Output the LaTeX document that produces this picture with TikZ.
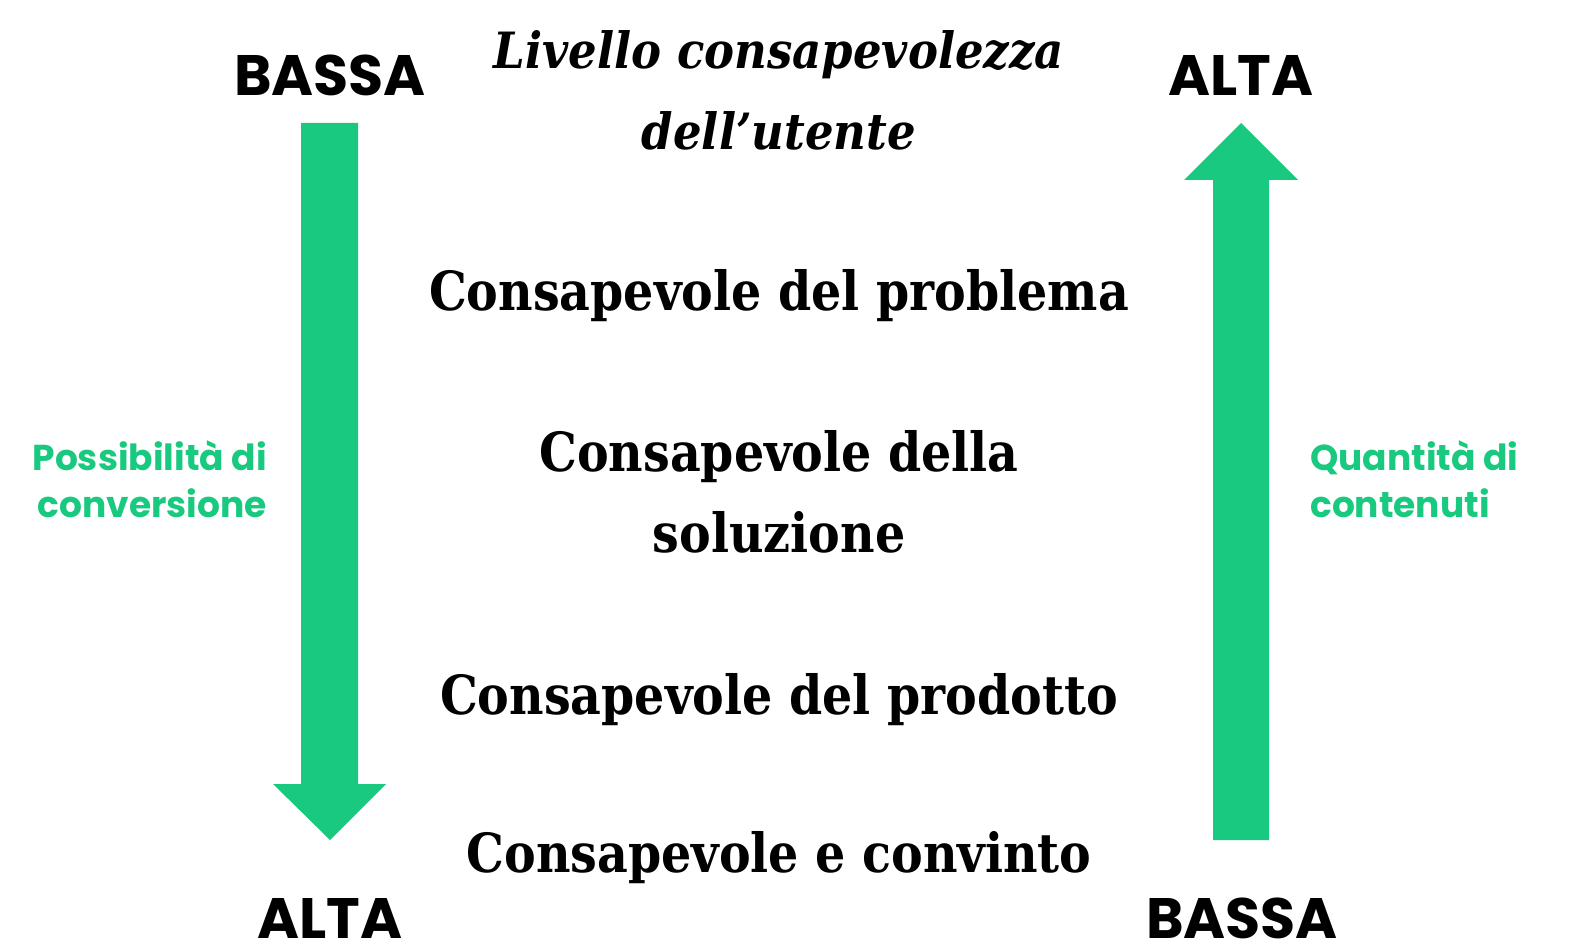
\documentclass[tikz,border=0pt]{standalone}
\usepackage{fontspec}
\setmainfont{DejaVu Serif}
\newfontfamily\sansf{Poppins}
\definecolor{mygreen}{HTML}{19C97F}
\newcommand\sqz[1]{\scalebox{0.88}[1]{#1}}
\newcommand\sqt[1]{\scalebox{0.9}[1]{#1}}
\begin{document}
\begin{tikzpicture}[x=1pt,y=-1pt,
  arrowfill/.style={fill=mygreen,draw=none},
  endlabel/.style={font=\sansf\bfseries\fontsize{57}{60}\selectfont,anchor=base,inner sep=0pt},
  sidelabel/.style={font=\sansf\bfseries\fontsize{36}{47}\selectfont,text=mygreen,inner sep=0pt},
  stage/.style={font=\bfseries\fontsize{54}{80}\selectfont,anchor=base,inner sep=0pt},
  titletxt/.style={font=\bfseries\itshape\fontsize{50}{80}\selectfont,anchor=base,inner sep=0pt}]
\useasboundingbox (0,0) rectangle (1586,952);
% left arrow (down)
\fill[arrowfill] (301,123) -- (358,123) -- (358,784) -- (386,784) -- (330,840) -- (273,784) -- (301,784) -- cycle;
% right arrow (up)
\fill[arrowfill] (1213,840) -- (1269,840) -- (1269,180) -- (1298,180) -- (1241,123) -- (1184,180) -- (1213,180) -- cycle;
% end labels
\node[endlabel] (lt) at (330,96) {BASSA};
\node[endlabel] (rt) at (1241,96) {ALTA};
\node[endlabel] (lb) at (330,938) {ALTA};
\node[endlabel] (rb) at (1242,938) {BASSA};
% title
\node[titletxt] (t1) at (779,69) {\sqt{Livello consapevolezza}};
\node[titletxt] (t2) at (779,150) {\sqt{dell’utente}};
% stages
\node[stage] (s1) at (779,310) {\sqz{Consapevole del problema}};
\node[stage] (s2a) at (779,471) {\sqz{Consapevole della}};
\node[stage] (s2b) at (779,552) {\sqz{soluzione}};
\node[stage] (s3) at (779,714) {\sqz{Consapevole del prodotto}};
\node[stage] (s4) at (779,872) {\sqz{Consapevole e convinto}};
% side labels
\node[sidelabel,align=right,anchor=north east] (pl) at (267,440) {Possibilità di\\conversione};
\node[sidelabel,align=left,anchor=north west] (pr) at (1310,440) {Quantità di\\contenuti};
\end{tikzpicture}
\end{document}
